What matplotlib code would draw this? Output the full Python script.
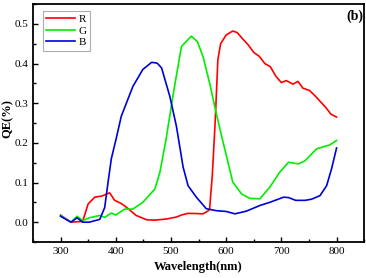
import numpy as np
import matplotlib.pyplot as plt
from matplotlib.ticker import MultipleLocator

plt.rcParams['font.family'] = ['Liberation Serif', 'DejaVu Serif']

# wavelength (nm) and QE values
wl_r = [300, 310, 319, 330, 340, 350, 362, 375, 389, 398, 410, 419, 437, 456, 470, 492,
        510, 519, 530, 540, 558, 567, 570, 575, 580, 585, 590, 600, 612, 620, 630, 640,
        650, 660, 670, 680, 690, 700, 709, 721, 730, 739, 751, 760, 770, 780, 790, 800]
qe_r = [0.018, 0.008, 0.0, 0.001, 0.002, 0.046, 0.063, 0.066, 0.074, 0.055, 0.047, 0.038,
        0.017, 0.006, 0.005, 0.008, 0.013, 0.018, 0.022, 0.022, 0.021, 0.028, 0.033, 0.12,
        0.25, 0.41, 0.45, 0.472, 0.482, 0.478, 0.462, 0.447, 0.428, 0.418, 0.4, 0.392,
        0.368, 0.352, 0.357, 0.348, 0.355, 0.338, 0.332, 0.32, 0.305, 0.29, 0.272, 0.265]

wl_g = [300, 310, 319, 330, 340, 352, 371, 380, 392, 400, 416, 431, 449, 471, 480, 491,
        505, 519, 537, 548, 558, 570, 582, 593, 612, 628, 643, 661, 679, 697, 713, 731,
        743, 764, 788, 800]
qe_g = [0.017, 0.008, 0.0, 0.015, 0.004, 0.011, 0.017, 0.012, 0.023, 0.018, 0.033, 0.033,
        0.05, 0.084, 0.126, 0.208, 0.33, 0.443, 0.469, 0.455, 0.418, 0.351, 0.275, 0.21,
        0.101, 0.071, 0.06, 0.059, 0.088, 0.126, 0.151, 0.147, 0.155, 0.185, 0.195, 0.206]

wl_b = [300, 310, 319, 330, 340, 352, 371, 380, 386, 392, 401, 410, 431, 449, 465, 475,
        483, 498, 510, 522, 531, 546, 564, 582, 600, 616, 637, 661, 679, 704, 713, 726,
        743, 755, 770, 782, 791, 800]
qe_b = [0.015, 0.007, 0.0, 0.011, 0.0, 0.0, 0.007, 0.037, 0.1, 0.16, 0.212, 0.267, 0.342,
        0.385, 0.403, 0.401, 0.389, 0.317, 0.241, 0.139, 0.092, 0.063, 0.034, 0.029, 0.027,
        0.021, 0.028, 0.042, 0.05, 0.063, 0.062, 0.055, 0.055, 0.058, 0.067, 0.092, 0.135,
        0.187]

fig = plt.figure(figsize=(3.66, 2.78), dpi=100)
ax = fig.add_axes([0.090, 0.1295, 0.905, 0.856])

ax.plot(wl_r, qe_r, color='#ff0000', lw=1.2, label='R')
ax.plot(wl_g, qe_g, color='#00ee00', lw=1.2, label='G')
ax.plot(wl_b, qe_b, color='#0000dd', lw=1.2, label='B')

ax.set_xlim(250, 850)
ax.set_ylim(-0.05, 0.55)
ax.set_xticks([300, 400, 500, 600, 700, 800])
ax.set_yticks([0.0, 0.1, 0.2, 0.3, 0.4, 0.5])
ax.xaxis.set_minor_locator(MultipleLocator(50))
ax.yaxis.set_minor_locator(MultipleLocator(0.05))
ax.tick_params(which='both', direction='in', labelsize=8, width=1)
ax.tick_params(which='major', length=3.5)
ax.tick_params(which='minor', length=2)
for s in ax.spines.values():
    s.set_linewidth(1.3)

ax.set_xlabel('Wavelength(nm)', fontsize=9, fontweight='bold', labelpad=4)
ax.set_ylabel('QE(%)', fontsize=9, fontweight='bold')
ax.yaxis.set_label_coords(-0.057, 0.52)
ax.text(0.997, 0.975, '(b)', transform=ax.transAxes, ha='right', va='top',
        fontsize=10, fontweight='bold')

leg = ax.legend(loc='upper left', bbox_to_anchor=(0.03, 0.97), fontsize=8,
                fancybox=False, edgecolor='#999999', handlelength=2.6,
                handletextpad=0.3, borderpad=0.3, labelspacing=0.15, borderaxespad=0)
leg.get_frame().set_linewidth(0.8)

fig.savefig('out.png', dpi=100)
